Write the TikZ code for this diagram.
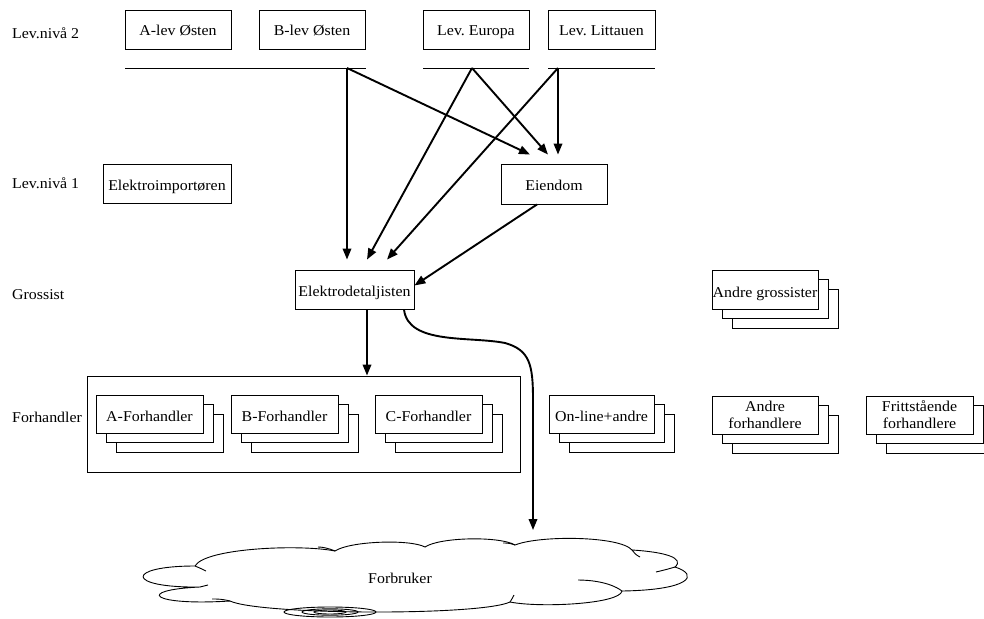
\documentclass[tikz,border=0pt]{standalone}
\usepackage{fontspec}
\setmainfont{Liberation Serif}[FakeStretch=1.06]
\usetikzlibrary{arrows.meta}
\frenchspacing

\tikzset{
  txt/.style={font=\fontsize{15}{17}\selectfont, inner sep=0pt},
  box/.style={txt, draw, line width=0.9pt, fill=white, minimum height=39,
    text height=14, text depth=1},
  card/.style={txt, draw, line width=0.9pt, fill=white, minimum height=38, align=center,
    text height=15, text depth=0},
  twoline/.style={text height={}, text depth={}},
  cardback/.style={draw, line width=0.9pt, fill=white},
  baseline/.style={line width=0.9pt},
  arr/.style={line width=1.9pt, -{Triangle[length=11pt,width=8.5pt]}},
  cloudline/.style={line width=0.9pt},
}

% three stacked cards: name, centre x, centre y, width, height, text, extra style
\newcommand{\cardstack}[7]{%
  \draw[cardback] (#2-#4/2+20, #3-#5/2+19) rectangle ++(#4,#5);
  \draw[cardback] (#2-#4/2+10, #3-#5/2+9.5) rectangle ++(#4,#5);
  \node[card, minimum width=#4, minimum height=#5, #7] (#1) at (#2,#3) {#6};
}

\begin{document}
\begin{tikzpicture}[x=1pt, y=-1pt]
\useasboundingbox (0,0) rectangle (984,618);

% level labels
\node[txt, anchor=west] (l2) at (12,33) {Lev.nivå 2};
\node[txt, anchor=west] (l1) at (12,183) {Lev.nivå 1};
\node[txt, anchor=west] (lg) at (12,295) {Grossist};
\node[txt, anchor=west] (lf) at (12,417) {Forhandler};

% level 2 suppliers
\node[box, minimum width=106] (alev) at (178,29.5) {A-lev Østen};
\node[box, minimum width=106] (blev) at (312,29.5) {B-lev Østen};
\node[box, minimum width=106] (europa) at (476,29.5) {Lev. Europa};
\node[box, minimum width=107] (littauen) at (601.5,29.5) {Lev. Littauen};

% collecting lines under the suppliers
\coordinate (bl0) at (125,68);  \coordinate (bl1) at (366,68);
\coordinate (el0) at (423,68);  \coordinate (el1) at (529,68);
\coordinate (ll0) at (548,68);  \coordinate (ll1) at (655,68);
\draw[baseline] (bl0) -- (bl1);
\draw[baseline] (el0) -- (el1);
\draw[baseline] (ll0) -- (ll1);
\coordinate (bsplit) at (347,68);
\coordinate (esplit) at (472,68);
\coordinate (lsplit) at (558,68);

% level 1
\node[box, minimum width=128] (import) at (167,183.5) {Elektroimportøren};
\node[box, minimum width=106, minimum height=40] (eiendom) at (554,184) {Eiendom};

% wholesaler level
\node[box, minimum width=119] (detalj) at (354.5,289.5) {Elektrodetaljisten};
\cardstack{andregross}{765}{289.5}{106}{39}{Andre grossister}{}

% arrows from the suppliers
\draw[arr] (bsplit) -- ([shift={(-7.5,-10)}]detalj.north);
\draw[arr] (bsplit) -- ([shift={(-24,-9)}]eiendom.north);
\draw[arr] (esplit) -- ([shift={(12.5,-10)}]detalj.north);
\draw[arr] (esplit) -- ([shift={(-6,-9)}]eiendom.north);
\draw[arr] (lsplit) -- ([shift={(32.5,-10)}]detalj.north);
\draw[arr] (lsplit) -- ([shift={(4,-9)}]eiendom.north);
\draw[arr] ([xshift=-17]eiendom.south) -- ([shift={(0,-4)}]detalj.east);

% dealer level
\node[draw, line width=0.9pt, minimum width=433, minimum height=96, inner sep=0pt] (dealers) at (303.5,424) {};
\cardstack{aforh}{149.5}{414}{107}{38}{A-Forhandler}{}
\cardstack{bforh}{284.5}{414}{107}{38}{B-Forhandler}{}
\cardstack{cforh}{428.5}{414}{107}{38}{C-Forhandler}{}
\cardstack{online}{601.5}{414}{105}{38}{On-line+andre}{}
\cardstack{andreforh}{765}{415}{106}{38}{Andre\\forhandlere}{twoline}
\cardstack{fritt}{919.5}{415}{107}{38}{Frittstående\\forhandlere}{twoline}

\draw[arr] ([xshift=12.5]detalj.south) -- ([xshift=12.5]detalj.south |- dealers.north);

% consumer cloud
\draw[cloudline, fill=white]
  (195,566) .. controls (205,548) and (300,544) .. (335,551)
            .. controls (350,541) and (410,539) .. (425,547)
            .. controls (440,537) and (500,536) .. (515,545)
            .. controls (540,535) and (620,536) .. (632,550)
            .. controls (665,552) and (685,558) .. (675,567)
            .. controls (700,575) and (690,590) .. (622,591)
            .. controls (620,604) and (540,608) .. (510,602)
            .. controls (480,616) and (260,615) .. (230,601)
            .. controls (150,606) and (135,590) .. (200,587)
            .. controls (125,588) and (125,566) .. (195,566) -- cycle;
% cusp tails of the cloud outline
\draw[cloudline] (195,566) .. controls (200,568) and (204,570) .. (206,571);
\draw[cloudline] (335,551) .. controls (328,548) and (322,547) .. (318,547);
\draw[cloudline] (515,545) .. controls (510,543) and (506,543) .. (503,543);
\draw[cloudline] (632,550) .. controls (634,553) and (636,555) .. (640,557);
\draw[cloudline] (675,567) .. controls (665,570) and (660,571) .. (656,572);
\draw[cloudline] (622,591) .. controls (610,582) and (590,580) .. (578,580);
\draw[cloudline] (510,602) .. controls (512,599) and (513,597) .. (514,595);
\draw[cloudline] (230,601) .. controls (222,599) and (218,599) .. (212,599);
\draw[cloudline] (200,587) .. controls (203,586) and (205,586) .. (208,585);
\node[txt] (forbruker) at (400,578) {Forbruker};
\coordinate (swirl) at (330,612);
\draw[cloudline] (swirl) ellipse (46 and 5);
\draw[cloudline] (swirl) ellipse (28 and 3.2);
\draw[cloudline] (swirl) ellipse (16 and 2);

% winding route from the wholesaler to the consumer
\draw[arr, -] ([xshift=49.5]detalj.south)
  .. controls (408,345) and (470,336) .. (505,343)
  .. controls (530,350) and (533,365) .. (533,400);
\coordinate (cloudtop) at (533,530);
\draw[arr] (533,399) -- (cloudtop);

\end{tikzpicture}
\end{document}
